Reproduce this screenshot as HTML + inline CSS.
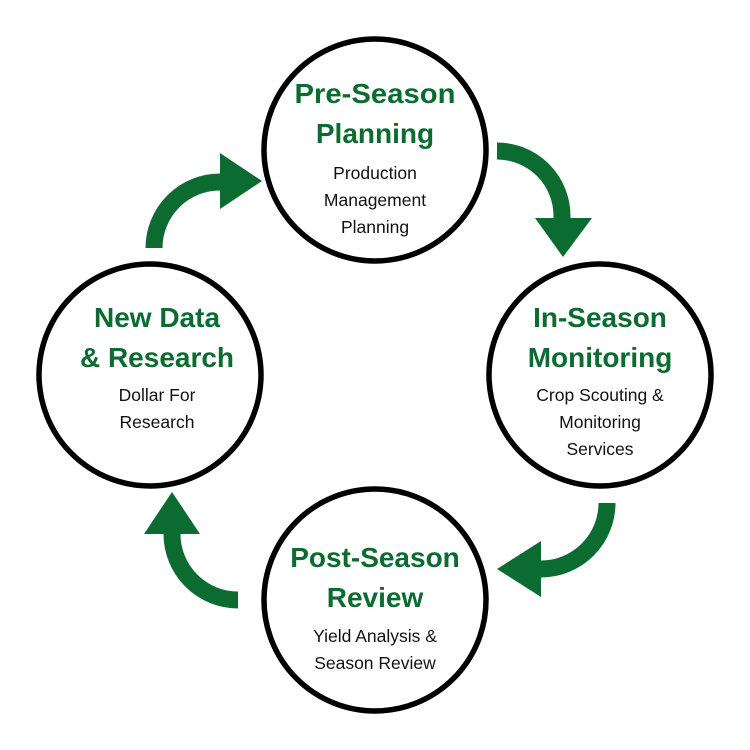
<!DOCTYPE html>
<html><head><meta charset="utf-8"><style>
body{margin:0;background:#fff}
svg{display:block}
.t{font-family:"Liberation Sans",sans-serif;font-weight:bold;font-size:28px;fill:#0b6b31;text-anchor:middle}
.s{font-family:"Liberation Sans",sans-serif;font-size:17.5px;fill:#111;text-anchor:middle}
</style></head><body>
<svg width="750" height="750" viewBox="0 0 750 750">
<g fill="none" stroke="#000" stroke-width="5.5">
<circle cx="375" cy="150" r="111"/>
<circle cx="600" cy="375" r="111"/>
<circle cx="375" cy="600" r="111"/>
<circle cx="150" cy="375" r="111"/>
</g>
<g fill="none" stroke="#0b6b31" stroke-width="17">
<path d="M497,151 A65,65 0 0 1 562,216 L562,222"/>
<path d="M607,503 A66,66 0 0 1 541,569 L535,569"/>
<path d="M238,600 A66,66 0 0 1 172,534 L172,528"/>
<path d="M154,248 A66,66 0 0 1 220,182 L226,182"/>
</g>
<g fill="#0b6b31">
<polygon points="535,218 592,218 563,257"/>
<polygon points="541,541 541,597 497,569"/>
<polygon points="144,534 200,534 172,492"/>
<polygon points="220,153 220,209 262,181"/>
</g>
<text class="t" x="375" y="103" textLength="161" lengthAdjust="spacingAndGlyphs">Pre-Season</text>
<text class="t" x="375" y="143">Planning</text>
<text class="s" x="375" y="179">Production</text>
<text class="s" x="375" y="206">Management</text>
<text class="s" x="375" y="233">Planning</text>

<text class="t" x="600" y="327">In-Season</text>
<text class="t" x="600" y="367">Monitoring</text>
<text class="s" x="600" y="401">Crop Scouting &amp;</text>
<text class="s" x="600" y="428">Monitoring</text>
<text class="s" x="600" y="455">Services</text>

<text class="t" x="375" y="567">Post-Season</text>
<text class="t" x="375" y="607">Review</text>
<text class="s" x="375" y="642">Yield Analysis &amp;</text>
<text class="s" x="375" y="669">Season Review</text>

<text class="t" x="157" y="327">New Data</text>
<text class="t" x="157" y="367">&amp; Research</text>
<text class="s" x="157" y="401">Dollar For</text>
<text class="s" x="157" y="428">Research</text>
</svg>
</body></html>
